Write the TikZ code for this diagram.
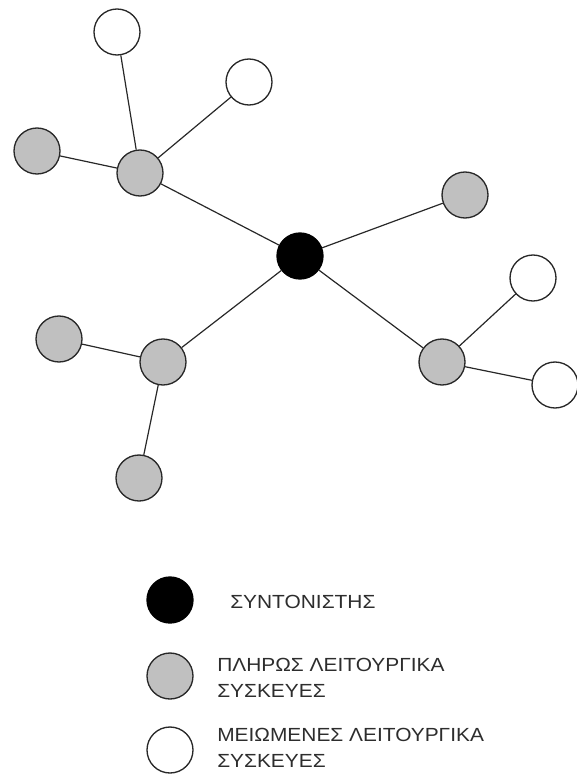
\documentclass[tikz,border=0pt]{standalone}
\usepackage{fontspec}
\setmainfont{Liberation Sans}
\definecolor{nodegray}{RGB}{192,192,192}
\definecolor{txtgray}{RGB}{45,45,45}
\definecolor{linegray}{RGB}{40,40,40}
\tikzset{
  dev/.style={circle, draw=linegray, line width=1pt, minimum size=34.5pt, inner sep=0pt},
  coord/.style={dev, fill=black, draw=black},
  full/.style={dev, fill=nodegray},
  reduced/.style={dev, fill=white},
  link/.style={draw=linegray, line width=0.9pt},
  legtext/.style={anchor=west, inner sep=0pt, text=txtgray, font=\fontsize{14.25}{19.5}\selectfont}
}
\begin{document}
\begin{tikzpicture}[x=0.75pt, y=-0.75pt]
\useasboundingbox (0,0) rectangle (576,774);
% nodes
\node[coord]   (c)  at (300,256) {};
\node[full]    (a)  at (140,173) {};
\node[reduced] (a1) at (117,32)  {};
\node[reduced] (a2) at (249,82)  {};
\node[full]    (a3) at (37,151)  {};
\node[full]    (r)  at (465,195) {};
\node[full]    (b)  at (442,362) {};
\node[reduced] (b1) at (533,278) {};
\node[reduced] (b2) at (555,385) {};
\node[full]    (d)  at (163,362) {};
\node[full]    (d1) at (59,339)  {};
\node[full]    (d2) at (139,478) {};
% links
\path[link] (c) -- (a) (c) -- (r) (c) -- (b) (c) -- (d)
  (a) -- (a1) (a) -- (a2) (a) -- (a3)
  (b) -- (b1) (b) -- (b2)
  (d) -- (d1) (d) -- (d2);
% legend
\node[coord]   (l1) at (170,600) {};
\node[full]    (l2) at (170,676) {};
\node[reduced] (l3) at (170,750) {};
\node[legtext] (t1) at (230,602) {\scalebox{1.1}[1]{ΣΥΝΤΟΝΙΣΤΗΣ}};
\node[legtext] (t2) at (217,679) {\scalebox{1.1}[1]{\begin{tabular}{@{}l@{}}ΠΛΗΡΩΣ ΛΕΙΤΟΥΡΓΙΚΑ\\ΣΥΣΚΕΥΕΣ\end{tabular}}};
\node[legtext] (t3) at (217,749) {\scalebox{1.1}[1]{\begin{tabular}{@{}l@{}}ΜΕΙΩΜΕΝΕΣ ΛΕΙΤΟΥΡΓΙΚΑ\\ΣΥΣΚΕΥΕΣ\end{tabular}}};
\end{tikzpicture}
\end{document}
